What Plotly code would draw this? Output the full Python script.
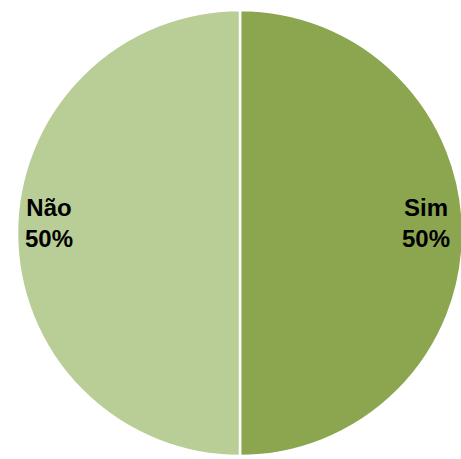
import plotly.graph_objects as go

labels = ["Sim", "Não"]
values = [50, 50]
colors = ["#8BA64F", "#B9CD96"]

total = sum(values)
pct = [f"{round(v / total * 100)}%" for v in values]

fig = go.Figure(go.Pie(
    labels=labels,
    values=values,
    sort=False,
    direction="clockwise",
    rotation=0,
    marker=dict(colors=colors, line=dict(color="white", width=2.5)),
    textinfo="none",
    hoverinfo="label+percent",
    showlegend=False,
))

# label positions (near outer edge, horizontally)
ann_pos = {"Sim": (0.917, 0.522), "Não": (0.072, 0.522)}
for lab, p in zip(labels, pct):
    x, y = ann_pos[lab]
    fig.add_annotation(
        x=x, y=y, xref="paper", yref="paper",
        text=f"{lab}<br>{p}", showarrow=False,
        xanchor="center", yanchor="middle", align="center",
        font=dict(family="Liberation Sans, Arial, sans-serif", size=24, color="black", weight="bold"),
    )

fig.update_layout(
    width=463, height=459,
    margin=dict(l=17, r=0, t=10, b=3),
    paper_bgcolor="white",
    plot_bgcolor="white",
)

fig.write_html(
    "out.html",
    config={"displayModeBar": False},
    post_script="document.body.style.margin='0';document.body.style.overflow='hidden';",
)
